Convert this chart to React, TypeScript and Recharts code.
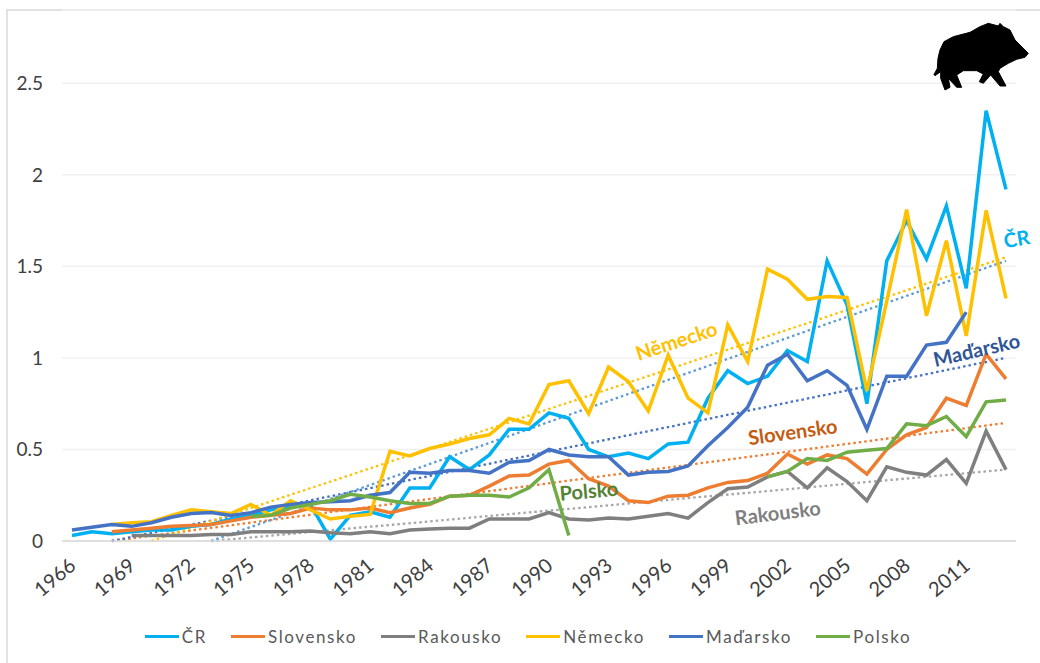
import React from "react";
import { LineChart, Line, XAxis, YAxis, CartesianGrid, Legend } from "recharts";

const years = [1966,1967,1968,1969,1970,1971,1972,1973,1974,1975,1976,1977,1978,1979,1980,1981,1982,1983,1984,1985,1986,1987,1988,1989,1990,1991,1992,1993,1994,1995,1996,1997,1998,1999,2000,2001,2002,2003,2004,2005,2006,2007,2008,2009,2010,2011,2012,2013];
const n = null;
const cr = [.03,.05,.04,.05,.06,.06,.08,.09,.12,.14,.17,.19,.20,.01,.14,.16,.13,.29,.29,.46,.39,.47,.61,.61,.70,.67,.50,.46,.48,.45,.53,.54,.78,.93,.86,.90,1.04,.98,1.53,1.29,.75,1.53,1.75,1.54,1.83,1.38,2.35,1.92];
const slovensko = [n,n,.05,.06,.07,.08,.085,.09,.11,.13,.14,.15,.18,.17,.17,.18,.155,.18,.20,.245,.25,.30,.355,.36,.42,.44,.34,.30,.22,.21,.245,.25,.29,.32,.33,.37,.475,.42,.47,.45,.365,.50,.58,.62,.78,.74,1.02,.885];
const rakousko = [n,n,n,.03,.03,.03,.03,.035,.035,.05,.05,.05,.055,.045,.04,.05,.04,.06,.065,.07,.07,.12,.12,.12,.155,.12,.115,.125,.12,.135,.15,.125,.21,.285,.295,.35,.38,.29,.40,.325,.22,.405,.375,.36,.445,.315,.60,.39];
const nemecko = [n,n,.09,.10,.105,.14,.17,.16,.15,.20,.14,.22,.17,.12,.135,.145,.49,.465,.505,.53,.56,.58,.67,.64,.855,.875,.695,.95,.87,.71,1.015,.78,.70,1.18,.98,1.485,1.43,1.32,1.335,1.33,.82,1.31,1.81,1.23,1.64,1.12,1.805,1.325];
const madarsko = [.06,.075,.09,.08,.10,.13,.15,.155,.14,.155,.185,.20,.21,.215,.22,.25,.265,.375,.37,.385,.385,.37,.43,.44,.50,.47,.46,.46,.36,.375,.38,.41,.52,.62,.73,.96,1.02,.875,.93,.85,.61,.90,.90,1.07,1.085,1.25,n,n];
const polsko = [n,n,n,n,n,n,n,n,n,.135,.14,.18,.20,.22,.255,.24,.22,.205,.205,.245,.25,.25,.24,.29,.39,.03,n,n,n,n,n,n,n,n,n,.35,.38,.45,.44,.485,.495,.505,.64,.63,.68,.57,.76,.77];

// Dotted trend lines, as [first year, value there, value in 2013]
const trendCr = [1973, 0, 1.53];
const trendSlovensko = [1968, 0, 0.645];
const trendRakousko = [1973, 0, 0.39];
const trendNemecko = [1970, 0, 1.55];
const trendMadarsko = [1968, 0, 1.0];

const yTicks = [0, 0.5, 1, 1.5, 2, 2.5];

const trendAt = (t: number[], y: number) => (y === t[0] ? t[1] : y === 2013 ? t[2] : null);
const data = years.map((y, i) => ({
  year: String(y),
  "ČR": cr[i],
  Slovensko: slovensko[i],
  Rakousko: rakousko[i],
  "Německo": nemecko[i],
  "Maďarsko": madarsko[i],
  Polsko: polsko[i],
  tCr: trendAt(trendCr, y),
  tSlovensko: trendAt(trendSlovensko, y),
  tRakousko: trendAt(trendRakousko, y),
  tNemecko: trendAt(trendNemecko, y),
  tMadarsko: trendAt(trendMadarsko, y),
}));

const FONT = "Lato, 'Open Sans', sans-serif";
const C = { cr: "#00B0F0", sk: "#ED7D31", at: "#7F7F7F", de: "#FFC000", hu: "#4472C4", pl: "#70AD47" };

const seriesLines: [string, string][] = [
  ["ČR", C.cr], ["Slovensko", C.sk], ["Rakousko", C.at], ["Německo", C.de], ["Maďarsko", C.hu], ["Polsko", C.pl],
];
const trendLines: [string, string][] = [
  ["tRakousko", "#A6A6A6"], ["tSlovensko", C.sk], ["tMadarsko", C.hu], ["tCr", "#5B9BD5"], ["tNemecko", C.de],
];

const legendContent = (props: any) => (
  <div style={{ display: "flex", justifyContent: "center", gap: 24, fontFamily: FONT, fontSize: 17, letterSpacing: 1.6, color: "#595959", position: "relative", left: 20 }}>
    {props.payload.filter((p: any) => !String(p.dataKey).startsWith("t")).map((p: any) => (
      <div key={p.value} style={{ display: "flex", alignItems: "center" }}>
        <span style={{ display: "inline-block", width: 34, height: 3.5, background: p.color, marginRight: 3 }} />
        <span>{p.value}</span>
      </div>
    ))}
  </div>
);

const notes = [
  { t: "Německo", x: 677, y: 343, a: -18, c: "#FFC000" },
  { t: "ČR", x: 1017, y: 241, a: -10, c: "#00B0F0" },
  { t: "Maďarsko", x: 977, y: 352, a: -13, c: "#2F5597" },
  { t: "Slovensko", x: 793, y: 434, a: -8, c: "#C55A11" },
  { t: "Rakousko", x: 778, y: 515, a: -7, c: "#7F7F7F" },
  { t: "Polsko", x: 589, y: 493, a: -5, c: "#548235" },
];

export default function App() {
  return (
    <div style={{ position: "absolute", left: 0, top: 0, width: 1040, height: 663, overflow: "hidden", background: "#fff" }}>
      <div style={{ position: "absolute", left: 6, top: 9, right: 0, bottom: 0, borderLeft: "2px solid #e2e2e2", borderTop: "2px solid #e2e2e2" }} />
      <div style={{ position: "absolute", left: 0, top: 0 }}>
        <LineChart width={1040} height={663} data={data} margin={{ top: 10, right: 24, bottom: 0, left: 0 }}>
          <CartesianGrid horizontal vertical={false} stroke="#f0f0f0" strokeWidth={1.5} />
          <XAxis
            dataKey="year"
            scale="point"
            padding={{ left: 10, right: 10 }}
            interval={2}
            angle={-40}
            textAnchor="end"
            height={101}
            tickLine={false}
            axisLine={{ stroke: "#d9d9d9", strokeWidth: 1.5 }}
            tick={{ fill: "#404040", fontFamily: FONT, fontSize: 20, dx: -4 }}
            tickMargin={10}
          />
          <YAxis
            width={62}
            domain={[0, 2.9]}
            ticks={yTicks}
            tickLine={false}
            axisLine={false}
            tick={{ fill: "#404040", fontFamily: FONT, fontSize: 19 }}
            tickMargin={13}
          />
          <Legend verticalAlign="bottom" align="center" itemSorter={null} content={legendContent} wrapperStyle={{ bottom: 16 }} />
          {trendLines.map(([k, c]) => (
            <Line key={k} dataKey={k} stroke={c} strokeWidth={2.3} strokeDasharray="2.5 3" dot={false} connectNulls legendType="none" isAnimationActive={false} />
          ))}
          {seriesLines.map(([k, c]) => (
            <Line key={k} dataKey={k} stroke={c} strokeWidth={3.5} dot={false} isAnimationActive={false} />
          ))}
        </LineChart>
      </div>
      <svg width={1040} height={663} style={{ position: "absolute", left: 0, top: 0, pointerEvents: "none" }}>
        {notes.map((l) => (
          <text key={l.t} x={l.x} y={l.y} textAnchor="middle" dominantBaseline="middle" fontFamily={FONT} fontSize={20} fontWeight={700} fill={l.c} transform={`rotate(${l.a} ${l.x} ${l.y})`}>
            {l.t}
          </text>
        ))}
        <g transform="translate(920 0) scale(0.3333)">
          <path
            fill="#000"
            stroke="#000"
            strokeWidth={3}
            strokeLinejoin="round"
            d="M42 224 L52 205 L54 175 L60 150 L72 125 L100 110 L150 97 L180 80 L205 70 L235 78 L240 70 L250 80 L270 90 L285 120 L310 145 L325 160 L315 172 L290 178 L265 190 L240 205 L235 215 L258 258 L240 258 L212 225 L190 250 L178 245 L190 222 L170 212 L130 212 L110 225 L125 262 L110 262 L85 235 L90 262 L75 270 L62 235 L62 215 L45 227 Z"
          />
        </g>
      </svg>
    </div>
  );
}
